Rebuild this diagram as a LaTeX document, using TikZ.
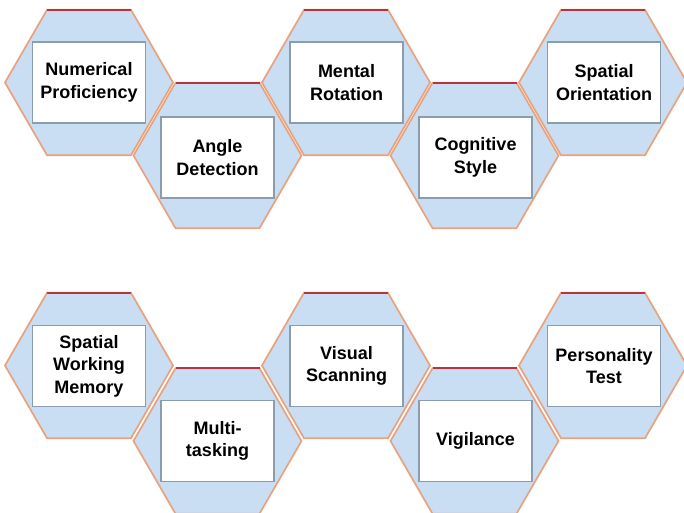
\documentclass[tikz,border=0pt]{standalone}
\usepackage{fontspec}
\setmainfont{Liberation Sans}
\definecolor{hexfill}{HTML}{C9DEF3}
\definecolor{hexedge}{HTML}{E8A27E}
\definecolor{hextop}{HTML}{B8333F}
\definecolor{boxedge}{HTML}{8A9CAD}
\tikzset{
  hexcell/.style={fill=hexfill, draw=hexedge, line width=1.7pt, line join=miter},
  hexcap/.style={draw=hextop, line width=2.2pt},
  labelbox/.style={draw=boxedge, line width=1.5pt, fill=white,
    minimum width=113pt, minimum height=81pt, inner sep=0pt,
    align=center, font=\fontsize{18}{22.5}\selectfont\bfseries},
}
\usetikzlibrary{calc}
% hexagonal cell centred at (#1,#2), radius 84
\newcommand{\hexcell}[3]{%
  \coordinate (#3) at (#1,#2);
  \draw[hexcell] ($(#3)+(-84,0)$) -- ($(#3)+(-42,-72.7)$) -- ($(#3)+(42,-72.7)$)
    -- ($(#3)+(84,0)$) -- ($(#3)+(42,72.7)$) -- ($(#3)+(-42,72.7)$) -- cycle;
  \draw[hexcap] ($(#3)+(-42,-72.7)$) -- ($(#3)+(42,-72.7)$);
}
\begin{document}
\begin{tikzpicture}[x=1pt,y=-1pt]
\useasboundingbox (0,0) rectangle (684,512);
\clip (0,0) rectangle (684,512);
\fill[white] (0,0) rectangle (684,512);

% upper row of cells
\hexcell{89}{82.5}{h1}
\hexcell{217.5}{155.5}{h2}
\hexcell{346}{82.5}{h3}
\hexcell{474.5}{155.5}{h4}
\hexcell{603}{82.5}{h5}
\node[labelbox] (b1) at (89,82.5) {Numerical\\Proficiency};
\node[labelbox] (b2) at (217.5,157.5) {Angle\\Detection};
\node[labelbox] (b3) at (346.5,82.5) {Mental\\Rotation};
\node[labelbox] (b4) at (475.5,157.5) {Cognitive\\Style};
\node[labelbox] (b5) at (604,82.5) {Spatial\\Orientation};

% lower row of cells
\hexcell{89}{365.5}{k1}
\hexcell{217.5}{441}{k2}
\hexcell{346}{365.5}{k3}
\hexcell{474.5}{441}{k4}
\hexcell{603}{365.5}{k5}
\node[labelbox] (c1) at (89,366) {Spatial\\Working\\Memory};
\node[labelbox] (c2) at (217.5,441) {Multi-\\tasking};
\node[labelbox] (c3) at (346.5,366) {Visual\\Scanning};
\node[labelbox] (c4) at (475.5,441) {Vigilance};
\node[labelbox] (c5) at (604,366) {Personality\\Test};
\end{tikzpicture}
\end{document}
